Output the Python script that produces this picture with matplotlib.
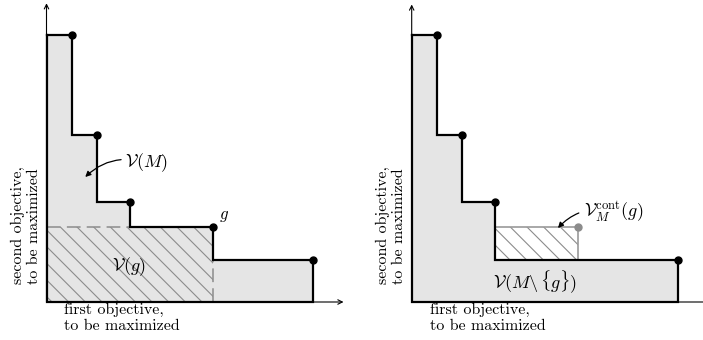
import numpy as np
import matplotlib
matplotlib.use("Agg")
import matplotlib.pyplot as plt

plt.rcParams['font.family'] = 'serif'
plt.rcParams['font.serif'] = ['cmr10', 'DejaVu Serif']
plt.rcParams['mathtext.fontset'] = 'cm'
plt.rcParams['axes.formatter.use_mathtext'] = True
plt.rcParams['hatch.linewidth'] = 0.8

# non-dominated points (first objective, second objective)
pts_x = [1.0, 2.02, 3.33, 6.65, 10.65]
pts_y = [10.68, 6.68, 4.0, 3.0, 1.68]
g_idx = 3  # the point g

x_label = "first objective,\nto be maximized"
y_label = "second objective,\nto be maximized"

px = 25.0  # pixels per data unit
W, H = 703, 340


def stairs(xs, ys):
    sx = np.concatenate(([0], np.repeat(xs, 2)))
    sy = np.concatenate((np.repeat(ys, 2), [0]))
    return sx, sy


def make_ax(fig, ox, oy):
    # ox, oy: origin in pixels (from top-left)
    ax = fig.add_axes([ox / W, (H - oy) / H, 13 * px / W, 12.2 * px / H])
    ax.set_xlim(0, 13)
    ax.set_ylim(0, 12.2)
    ax.axis('off')
    return ax


def draw_axes(ax, xend, yend):
    ax.annotate('', xy=(xend, 0), xytext=(0, 0),
                arrowprops=dict(arrowstyle='->', lw=0.8, color='black',
                                shrinkA=0, shrinkB=0, mutation_scale=8),
                annotation_clip=False)
    ax.annotate('', xy=(0, yend), xytext=(0, 0),
                arrowprops=dict(arrowstyle='->', lw=0.8, color='black',
                                shrinkA=0, shrinkB=0, mutation_scale=8),
                annotation_clip=False)
    ax.text(-0.82, 0.74, y_label, rotation=90, ha='center', va='bottom',
            multialignment='left', fontsize=11.5, linespacing=1.2)
    ax.text(0.72, -0.04, x_label, ha='left', va='top', fontsize=11.5,
            linespacing=1.15)


fig = plt.figure(figsize=(W / 100, H / 100), dpi=100)

# ---- left panel: V(M) and V(g)
ax = make_ax(fig, 46.5, 302)
sx, sy = stairs(pts_x, pts_y)
ax.fill(np.append(sx, 0), np.append(sy, 0), facecolor='#e5e5e5',
        edgecolor='none', zorder=1)
gx, gy = pts_x[g_idx], pts_y[g_idx]
ax.fill([0, gx, gx, 0], [0, 0, gy, gy], facecolor='none', edgecolor='#8c8c8c',
        hatch='\\\\', lw=0, zorder=2)
ax.plot([0, gx], [gy, gy], color='#8c8c8c', lw=1.1, ls=(0, (9, 4)), zorder=3)
ax.plot([gx, gx], [0, pts_y[g_idx + 1]], color='#8c8c8c', lw=1.1,
        ls=(0, (9, 4)), zorder=3)
ax.plot(np.append(sx, [0, 0]), np.append(sy, [0, pts_y[0]]), color='black',
        lw=1.6, zorder=4, clip_on=False, solid_joinstyle='miter')
ax.plot(pts_x, pts_y, 'o', color='black', ms=5, zorder=5, clip_on=False)
draw_axes(ax, 11.88, 11.95)
ax.text(gx + 0.25, gy + 0.3, r'$g$', fontsize=12)
ax.text(3.3, 1.4, r'$\mathcal{V}(g)$', fontsize=13, ha='center', va='center',
        zorder=6)
ax.annotate(r'$\mathcal{V}(M)$', xy=(1.55, 5.0), xytext=(3.15, 5.56),
            fontsize=13, va='center', ha='left',
            arrowprops=dict(arrowstyle='-|>', lw=0.9, color='black',
                            connectionstyle='arc3,rad=0.3', shrinkA=1,
                            shrinkB=0, mutation_scale=8))

# ---- right panel: V(M \ {g}) and contribution of g
ax = make_ax(fig, 411.7, 302)
keep = [i for i in range(len(pts_x)) if i != g_idx]
kx = [pts_x[i] for i in keep]
ky = [pts_y[i] for i in keep]
sx, sy = stairs(kx, ky)
ax.fill(np.append(sx, 0), np.append(sy, 0), facecolor='#e5e5e5',
        edgecolor='none', zorder=1)
x_prev = pts_x[g_idx - 1]
y_next = pts_y[g_idx + 1]
ax.fill([x_prev, gx, gx, x_prev], [y_next, y_next, gy, gy], facecolor='white',
        edgecolor='#8c8c8c', hatch='\\\\', lw=0, zorder=2)
ax.plot([x_prev, gx, gx], [gy, gy, y_next], color='#999999', lw=1.2, zorder=3)
ax.plot(np.append(sx, [0, 0]), np.append(sy, [0, ky[0]]), color='black',
        lw=1.6, zorder=4, clip_on=False, solid_joinstyle='miter')
ax.plot(kx, ky, 'o', color='black', ms=5, zorder=5, clip_on=False)
ax.plot([gx], [gy], 'o', color='#8c8c8c', ms=5, zorder=5)
draw_axes(ax, 12.5, 11.9)
ax.text(4.95, 0.8, r'$\mathcal{V}(M\backslash\,\{g\})$', fontsize=13,
        ha='center', va='center')
ax.annotate(r'$\mathcal{V}_M^{\mathrm{cont}}(g)$', xy=(5.85, 2.96),
            xytext=(6.9, 3.62), fontsize=13, va='center', ha='left',
            arrowprops=dict(arrowstyle='-|>', lw=0.9, color='black',
                            connectionstyle='arc3,rad=0.3', shrinkA=2,
                            shrinkB=0, mutation_scale=8))

fig.savefig('out.png', dpi=100)
